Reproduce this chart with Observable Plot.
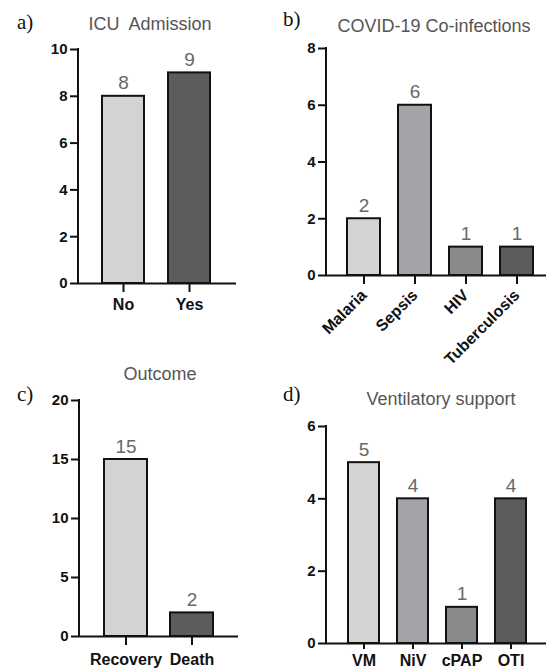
<!DOCTYPE html>
<html>
<head>
<meta charset="utf-8">
<script src="https://cdn.jsdelivr.net/npm/d3@7"></script>
<script src="https://cdn.jsdelivr.net/npm/@observablehq/plot@0.6"></script>
<style>
  html, body { margin: 0; padding: 0; background: #fff; }
  #root { position: relative; width: 546px; height: 671px; overflow: hidden; background: #fff; }
  #root svg { position: absolute; }
  .title { position: absolute; font-family: "Liberation Sans", Arial, sans-serif; font-size: 18px; line-height: 18px; color: #555; text-align: center; white-space: pre; width: 240px; }
  .tag { position: absolute; font-family: "Liberation Serif", "Times New Roman", serif; font-size: 21px; line-height: 20px; color: #111; }
</style>
</head>
<body>
<div id="root"></div>
<script>
// ---- Data ----
const icuCategories = ["No", "Yes"];
const icuValues = [8, 9];
const icuTicks = [0, 2, 4, 6, 8, 10];

const coinfCategories = ["Malaria", "Sepsis", "HIV", "Tuberculosis"];
const coinfValues = [2, 6, 1, 1];
const coinfTicks = [0, 2, 4, 6, 8];

const outcomeCategories = ["Recovery", "Death"];
const outcomeValues = [15, 2];
const outcomeTicks = [0, 5, 10, 15, 20];

const ventCategories = ["VM", "NiV", "cPAP", "OTI"];
const ventValues = [5, 4, 1, 4];
const ventTicks = [0, 2, 4, 6];

// ---- Styles ----
const LIGHT = "#d3d3d3", MID = "#a4a4a8", MIDDARK = "#8a8a8a", DARK = "#5c5c5c";
const root = document.getElementById("root");

function yAxisLine(yMax) {
  return (index, scales, values, dims) => {
    return d3.create("svg:line")
      .attr("x1", dims.marginLeft).attr("x2", dims.marginLeft)
      .attr("y1", scales.y(0)).attr("y2", scales.y(yMax))
      .attr("stroke", "#111").attr("stroke-width", 2)
      .attr("stroke-linecap", "square")
      .node();
  };
}

function panel(cfg) {
  const data = cfg.categories.map((c, i) => ({cat: c, value: cfg.values[i], color: cfg.colors[i]}));
  const yMax = d3.max(cfg.ticks);
  const chart = Plot.plot({
    width: cfg.width, height: cfg.height,
    marginLeft: cfg.margins[0], marginRight: cfg.margins[1], marginTop: cfg.margins[2], marginBottom: cfg.margins[3],
    style: {fontFamily: "'Liberation Sans', Arial, sans-serif", color: "#111", background: "transparent", overflow: "visible"},
    x: {domain: cfg.categories, range: cfg.xRange, paddingInner: cfg.pad, paddingOuter: 0},
    y: {domain: [0, yMax]},
    color: {type: "identity"},
    marks: [
      Plot.barY(data, {x: "cat", y: "value", fill: "color", stroke: "#111", strokeWidth: 2}),
      Plot.text(data, {x: "cat", y: "value", text: d => String(d.value), lineAnchor: "bottom", dy: -7, fontSize: 19, fill: "#686868"}),
      Plot.ruleY([0], {stroke: "#111", strokeWidth: 2}),
      yAxisLine(yMax),
      Plot.axisY({ticks: cfg.ticks, tickFormat: d3.format("d"), tickSize: 8, tickPadding: 3, fontSize: 15, fontWeight: "bold", strokeWidth: 2, label: null}),
      Plot.axisX({tickSize: cfg.xTick, tickPadding: cfg.xPad, fontSize: cfg.xFont || 16, fontWeight: "bold", strokeWidth: 2, label: null, tickRotate: cfg.rotate || 0})
    ]
  });
  chart.style.left = cfg.left + "px";
  chart.style.top = cfg.top + "px";
  root.appendChild(chart);
}

panel({categories: icuCategories, values: icuValues, ticks: icuTicks, colors: [LIGHT, DARK],
  left: 0, top: 0, width: 273, height: 330, margins: [78, 37, 49, 47], xRange: [102, 211], pad: 0.36, xTick: 9, xPad: 6});
panel({categories: coinfCategories, values: coinfValues, ticks: coinfTicks, colors: [LIGHT, MID, MIDDARK, DARK],
  left: 273, top: 0, width: 273, height: 370, margins: [53, 0, 48, 95], xRange: [73, 262], pad: 0.35, xTick: 9, xPad: 8, rotate: -45, xFont: 16});
panel({categories: outcomeCategories, values: outcomeValues, ticks: outcomeTicks, colors: [LIGHT, DARK],
  left: 0, top: 340, width: 273, height: 331, margins: [79, 35, 60, 35], xRange: [104, 213], pad: 0.35, xTick: 9, xPad: 8});
panel({categories: ventCategories, values: ventValues, ticks: ventTicks, colors: [LIGHT, MID, MIDDARK, DARK],
  left: 273, top: 370, width: 273, height: 301, margins: [53, 0, 56, 28], xRange: [74, 254], pad: 0.36, xTick: 6, xPad: 5});

// ---- Titles and panel tags ----
function addText(cls, text, left, top) {
  const d = document.createElement("div");
  d.className = cls; d.textContent = text;
  d.style.left = left + "px"; d.style.top = top + "px";
  root.appendChild(d);
}
addText("title", "ICU  Admission", 150 - 120, 15);
addText("title", "COVID-19 Co-infections", 434 - 120, 17);
addText("title", "Outcome", 160 - 120, 365);
addText("title", "Ventilatory support", 441 - 120, 390);
addText("tag", "a)", 17, 12);
addText("tag", "b)", 283, 9);
addText("tag", "c)", 17, 384);
addText("tag", "d)", 283, 384);
</script>
</body>
</html>
